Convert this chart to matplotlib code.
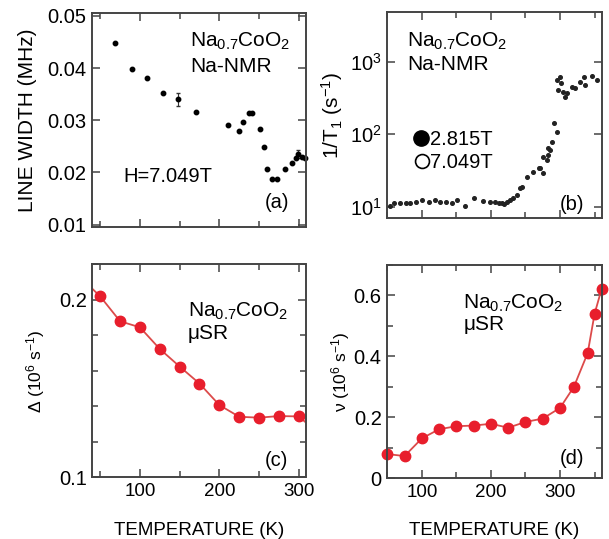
import matplotlib
matplotlib.use("Agg")
import matplotlib.pyplot as plt
from matplotlib.ticker import MultipleLocator, NullLocator, FuncFormatter
import numpy as np

plt.rcParams['font.family'] = ['Liberation Sans', 'DejaVu Sans']
plt.rcParams['mathtext.fontset'] = 'custom'
plt.rcParams['mathtext.rm'] = 'Liberation Sans'
plt.rcParams['mathtext.it'] = 'Liberation Sans:italic'
plt.rcParams['mathtext.bf'] = 'Liberation Sans:bold'

# (a) Na-NMR line width, H = 7.049 T
width_temp = [68, 90, 109, 129, 148, 170, 211, 225, 230, 237, 241, 251, 256, 260,
              266, 272, 283, 291, 296, 299, 304, 308]
width_mhz = [0.0449, 0.0398, 0.0381, 0.0353, 0.0340, 0.0315, 0.0291, 0.0280, 0.0296,
             0.0314, 0.0314, 0.0284, 0.0249, 0.0206, 0.0188, 0.0188, 0.0207, 0.0218,
             0.0227, 0.0235, 0.0229, 0.0227]
width_err = [0, 0, 0, 0, 0.0012, 0, 0, 0, 0, 0, 0, 0, 0, 0, 0, 0, 0, 0, 0, 0.0008, 0, 0]

# (b) Na-NMR 1/T1
t1_temp = [54, 60, 69, 77, 83, 91, 100, 110, 119, 126, 135, 143, 151, 162, 176, 189,
           199, 206, 211, 216, 219, 223, 228, 232, 237, 242, 245, 252, 261, 269, 271,
           276, 276, 281, 283, 283, 285, 288, 291, 295, 295, 297, 300, 302, 305, 307,
           310, 317, 322, 329, 334, 336, 346, 353]
t1_rate = [10.2, 11.1, 11.1, 11.1, 11.1, 11.7, 12.4, 11.7, 12.4, 11.7, 11.7, 11.1,
           12.4, 10.2, 13.0, 12.1, 11.7, 11.5, 11.3, 11.2, 11.0, 11.7, 12.4, 13.0,
           14.5, 17.9, 18.9, 25.9, 30.4, 33.8, 33.8, 28.8, 49, 44, 51.8, 63.8, 60.6,
           78.7, 141, 108, 560, 410, 620, 505, 385, 330, 365, 450, 430, 525, 620, 470,
           640, 560]

# (c) muSR Delta
delta_temp = [25, 50, 75, 100, 125, 150, 175, 200, 225, 250, 275, 300, 320]
delta = [0.2127, 0.2019, 0.1879, 0.1845, 0.1723, 0.1624, 0.1528, 0.1407, 0.1341,
         0.1336, 0.1345, 0.1343, 0.1267]

# (d) muSR nu
nu_temp = [50, 75, 100, 125, 150, 175, 200, 225, 250, 275, 300, 320, 340, 350, 360]
nu = [0.0795, 0.073, 0.131, 0.161, 0.171, 0.173, 0.179, 0.166, 0.185, 0.196, 0.231,
      0.300, 0.411, 0.540, 0.620]

W, H = 609, 539
fig = plt.figure(figsize=(W / 100, H / 100), dpi=100)


def px_axes(x0, x1, top, bottom):
    return fig.add_axes([x0 / W, 1 - bottom / H, (x1 - x0) / W, (bottom - top) / H])


ax_a = px_axes(92.3, 306, 13.3, 227.3)
ax_b = px_axes(387.3, 601.5, 12.3, 218.3)
ax_c = px_axes(92.3, 305.5, 264.3, 477.3)
ax_d = px_axes(387.3, 601.5, 265, 478.3)

edge = '#444444'
for ax in (ax_a, ax_b, ax_c, ax_d):
    for s in ax.spines.values():
        s.set_color(edge)
        s.set_linewidth(1.4)
    ax.tick_params(which='both', direction='in', top=True, right=True, color=edge,
                   width=1.1, pad=4)
    ax.tick_params(axis='y', labelsize=14.5)
    ax.tick_params(axis='x', labelsize=13.5)
    ax.tick_params(which='major', length=6)
    ax.tick_params(which='minor', length=4)

red_line = '#dc4a4a'
red_dot = '#e81e2c'
txt = 14.5

# ---- (a)
ax_a.errorbar(width_temp, width_mhz, yerr=width_err, fmt='o', ms=3.2, color='black',
              ecolor='#333333', elinewidth=0.8, capsize=1.5, clip_on=False)
ax_a.set_xlim(40, 309)
ax_a.set_ylim(0.0095, 0.0505)
ax_a.yaxis.set_major_locator(MultipleLocator(0.01))
ax_a.xaxis.set_major_locator(MultipleLocator(100))
ax_a.xaxis.set_minor_locator(MultipleLocator(50))
ax_a.set_xticklabels([])
ax_a.set_ylabel('LINE WIDTH (MHz)', fontsize=15)
ax_a.yaxis.set_label_coords(-0.259, 0.5)
ax_a.text(0.457, 0.844, 'Na$_{0.7}$CoO$_2$', transform=ax_a.transAxes, fontsize=15,
          va='baseline')
ax_a.text(0.457, 0.727, 'Na-NMR', transform=ax_a.transAxes, fontsize=15, va='baseline')
ax_a.text(0.144, 0.213, 'H=7.049T', transform=ax_a.transAxes, fontsize=txt, va='baseline')
ax_a.text(0.808, 0.114, '(a)', transform=ax_a.transAxes, fontsize=txt, va='center')

# ---- (b)
ax_b.plot(t1_temp, t1_rate, 'o', ms=2.6, color='#222222')
ax_b.set_yscale('log')
ax_b.set_xlim(50, 360)
ax_b.set_ylim(6.9, 4800)
ax_b.yaxis.set_minor_locator(NullLocator())
ax_b.set_yticks([10, 100, 1000])
ax_b.xaxis.set_major_locator(MultipleLocator(100))
ax_b.xaxis.set_minor_locator(MultipleLocator(50))
ax_b.set_xticklabels([])
ax_b.set_ylabel('1/T$_1$ (s$^{-1}$)', fontsize=15)
ax_b.yaxis.set_label_coords(-0.197, 0.5)
ax_b.text(0.091, 0.833, 'Na$_{0.7}$CoO$_2$', transform=ax_b.transAxes, fontsize=15,
          va='baseline')
ax_b.text(0.091, 0.72, 'Na-NMR', transform=ax_b.transAxes, fontsize=15, va='baseline')
ax_b.plot([0.155], [0.388], 'o', ms=11, color='black', transform=ax_b.transAxes)
ax_b.plot([0.160], [0.278], 'o', ms=10, mfc='none', mec='black', mew=1.2,
          transform=ax_b.transAxes)
ax_b.text(0.199, 0.356, '2.815T', transform=ax_b.transAxes, fontsize=txt, va='baseline')
ax_b.text(0.199, 0.243, '7.049T', transform=ax_b.transAxes, fontsize=txt, va='baseline')
ax_b.text(0.806, 0.069, '(b)', transform=ax_b.transAxes, fontsize=txt, va='center')

# ---- (c)
ax_c.plot(delta_temp, delta, '-', color=red_line, lw=1.3)
ax_c.plot(delta_temp, delta, 'o', color=red_dot, ms=7.5)
ax_c.set_xlim(40, 308.5)
ax_c.set_ylim(0.1, 0.22)
ax_c.set_yticks([0.1, 0.2])
ax_c.yaxis.set_major_formatter(FuncFormatter(lambda v, p: f'{v:.1f}'))
ax_c.yaxis.set_minor_locator(MultipleLocator(0.02))
ax_c.xaxis.set_major_locator(MultipleLocator(100))
ax_c.xaxis.set_minor_locator(MultipleLocator(50))
ax_c.set_ylabel('Δ (10$^6$ s$^{-1}$)', fontsize=12.5)
ax_c.yaxis.set_label_coords(-0.212, 0.5)
ax_c.set_xlabel('TEMPERATURE (K)', fontsize=13.5)
ax_c.xaxis.set_label_coords(0.5, -0.208)
ax_c.text(0.449, 0.755, 'Na$_{0.7}$CoO$_2$', transform=ax_c.transAxes, fontsize=15,
          va='baseline')
ax_c.text(0.449, 0.648, 'μSR', transform=ax_c.transAxes, fontsize=15, va='baseline')
ax_c.text(0.809, 0.081, '(c)', transform=ax_c.transAxes, fontsize=txt, va='center')

# ---- (d)
ax_d.plot(nu_temp, nu, '-', color=red_line, lw=1.3)
ax_d.plot(nu_temp, nu, 'o', color=red_dot, ms=7.5, clip_on=False)
ax_d.set_xlim(50, 360)
ax_d.set_ylim(0, 0.7)
ax_d.set_yticks([0, 0.2, 0.4, 0.6])
ax_d.yaxis.set_major_formatter(FuncFormatter(lambda v, p: '0' if v == 0 else f'{v:.1f}'))
ax_d.yaxis.set_minor_locator(MultipleLocator(0.1))
ax_d.xaxis.set_major_locator(MultipleLocator(100))
ax_d.xaxis.set_minor_locator(MultipleLocator(50))
ax_d.set_ylabel('ν (10$^6$ s$^{-1}$)', fontsize=12.5)
ax_d.yaxis.set_label_coords(-0.165, 0.5)
ax_d.set_xlabel('TEMPERATURE (K)', fontsize=13.5)
ax_d.xaxis.set_label_coords(0.5, -0.205)
ax_d.text(0.355, 0.797, 'Na$_{0.7}$CoO$_2$', transform=ax_d.transAxes, fontsize=15,
          va='baseline')
ax_d.text(0.355, 0.695, 'μSR', transform=ax_d.transAxes, fontsize=15, va='baseline')
ax_d.text(0.806, 0.094, '(d)', transform=ax_d.transAxes, fontsize=txt, va='center')

fig.savefig('out.png', dpi=100)
